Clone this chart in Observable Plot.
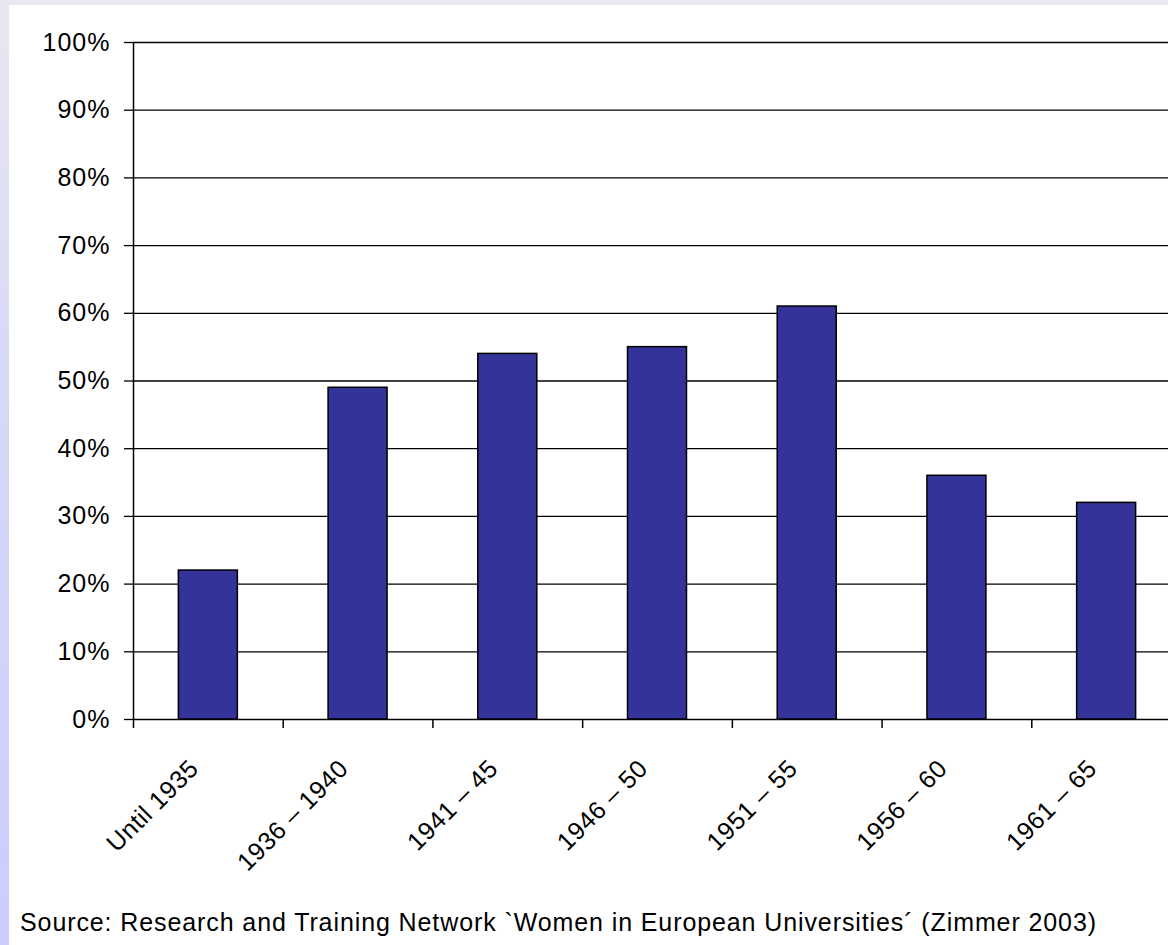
<!DOCTYPE html>
<html>
<head>
<meta charset="utf-8">
<script src="https://cdn.jsdelivr.net/npm/d3@7"></script>
<script src="https://cdn.jsdelivr.net/npm/@observablehq/plot@0.6"></script>
<style>
  html, body { margin: 0; padding: 0; }
  body { width: 1168px; height: 945px; overflow: hidden; position: relative; background: #e8e8f0; font-family: "Liberation Sans", Arial, sans-serif; }
  #strip { position: absolute; left: 0; top: 0; width: 9px; height: 945px; background: linear-gradient(to bottom, #e8e8f0 0%, #d8d8f8 40%, #ccccff 100%); }
  #panel { position: absolute; left: 9px; top: 5px; right: 0; bottom: 0; background: #fff; }
  #chart { position: absolute; left: 0; top: 0; width: 1190px; }
  #chart svg { max-width: none !important; }
  #caption { position: absolute; left: 20px; top: 910px; font-size: 25px; line-height: 25px; letter-spacing: 0.9px; color: #000; white-space: nowrap; }
</style>
</head>
<body>
<div id="strip"></div>
<div id="panel"></div>
<div id="chart"></div>
<div id="caption">Source: Research and Training Network `Women in European Universities´ (Zimmer 2003)</div>
<script>
const categories = ["Until 1935", "1936 – 1940", "1941 – 45", "1946 – 50", "1951 – 55", "1956 – 60", "1961 – 65"];
const shares = [22, 49, 54, 55, 61, 36, 32];
const yTicks = [0, 10, 20, 30, 40, 50, 60, 70, 80, 90, 100];

const data = categories.map((c, i) => ({category: c, share: shares[i]}));

const W = 1190, H = 900;
const mL = 133, mR = W - 1181, mT = 42, mB = H - 719;
const step = (W - mL - mR) / categories.length;

const chart = Plot.plot({
  width: W,
  height: H,
  marginLeft: mL,
  marginRight: mR,
  marginTop: mT,
  marginBottom: mB,
  style: {background: "transparent", fontFamily: "'Liberation Sans', Arial, sans-serif", fontSize: "25px", letterSpacing: "1px", color: "#000", maxWidth: "none"},
  x: {domain: categories, paddingInner: 0.606, paddingOuter: 0.303, round: false, axis: null, label: null},
  y: {domain: [0, 100], axis: null, label: null},
  marks: [
    Plot.ruleY(yTicks, {stroke: "#000", strokeWidth: 1.3}),
    Plot.barY(data, {x: "category", y: "share", fill: "#333399", stroke: "#000", strokeWidth: 1.5}),
    Plot.axisY({ticks: yTicks, label: null, tickSize: 9, tickPadding: 14, tickFormat: d => d + "%", stroke: "#000", strokeWidth: 1.3, fontSize: 25, fill: "#000"}),
    Plot.ruleX([0], {x: () => categories[0], dx: -step / 2, y1: 0, y2: 100, stroke: "#000", strokeWidth: 1.5}),
    Plot.axisX({label: null, tickSize: 9, tickFormat: () => "", dx: -step / 2, stroke: "#000", strokeWidth: 1.5}),
    Plot.axisX({label: null, tickSize: 0, tickPadding: 45, tickRotate: -45, dx: -14, fontSize: 25, fill: "#000", style: {letterSpacing: "0.5px"}})
  ]
});
chart.style.maxWidth = "none";
chart.querySelectorAll("g[aria-label='x-axis tick label'] text").forEach(t => t.style.letterSpacing = "0.5px");
document.getElementById("chart").appendChild(chart);
</script>
</body>
</html>
